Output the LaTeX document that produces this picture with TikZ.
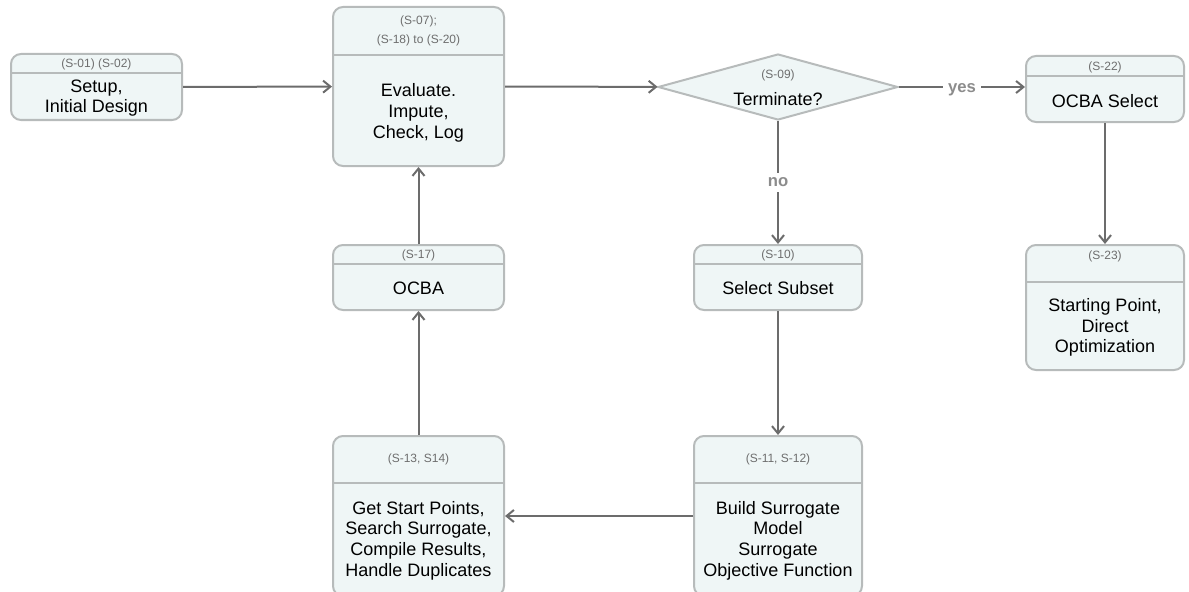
\documentclass[tikz,border=0pt]{standalone}
\usepackage{fontspec}
\setmainfont{Liberation Sans}
\usetikzlibrary{arrows.meta}
\usetikzlibrary{positioning}
\usetikzlibrary{shapes.geometric}
\definecolor{boxfill}{HTML}{EFF6F6}
\definecolor{boxedge}{HTML}{B7BBBB}
\definecolor{flowline}{HTML}{6C6C6C}
\definecolor{hdrtext}{HTML}{6E6E6E}
\definecolor{choicetext}{HTML}{8C8C8C}

\tikzset{
	stepbox/.style={draw=boxedge, fill=boxfill, line width=1.5pt, rounded corners=7.5pt, inner sep=0pt},
	decision/.style={diamond, draw=boxedge, fill=boxfill, line width=1.5pt, inner sep=0pt},
	divider/.style={draw=boxedge, line width=1.5pt},
	hdr/.style={text=hdrtext, font=\fontsize{9}{14}\selectfont, align=center, inner sep=0pt},
	body/.style={text=black, font=\fontsize{13.5}{15.5}\selectfont, align=center, inner sep=0pt},
	flow/.style={draw=flowline, line width=1.5pt, -{Straight Barb[length=5.5pt,width=9pt,line width=1.5pt]}},
	choice/.style={text=choicetext, font=\fontsize{12.5}{14}\selectfont\bfseries, fill=white, inner sep=3.5pt}
}

\begin{document}
\begin{tikzpicture}[x=0.75pt,y=-0.75pt]
		\clip (0,0) rectangle (1189,592);
		
		% boxes
		\node[stepbox, minimum width=128.25pt, minimum height=49.5pt] (setup) at (96.5,87) {};
		\node[stepbox, minimum width=128.25pt, minimum height=119.25pt] (eval) at (418.5,86.5) {};
		\node[decision, minimum width=180pt, minimum height=49.5pt] (term) at (778,87) {};
		\node[stepbox, minimum width=118.5pt, minimum height=49.5pt] (ocbasel) at (1105,89) {};
		\node[stepbox, minimum width=118.5pt, minimum height=93.75pt] (start) at (1105,307.5) {};
		\node[stepbox, minimum width=128.25pt, minimum height=48.75pt] (ocba) at (418.5,277.5) {};
		\node[stepbox, minimum width=126pt, minimum height=48.75pt] (subset) at (778,277.5) {};
		\node[stepbox, minimum width=128.25pt, minimum height=120pt] (search) at (418.5,516) {};
		\node[stepbox, minimum width=126pt, minimum height=120pt] (surr) at (778,516) {};
		
		% header lines
		\draw[divider] (setup.west |- 0,73) -- (setup.east |- 0,73);
		\draw[divider] (eval.west |- 0,55) -- (eval.east |- 0,55);
		\draw[divider] (ocbasel.west |- 0,76) -- (ocbasel.east |- 0,76);
		\draw[divider] (start.west |- 0,282) -- (start.east |- 0,282);
		\draw[divider] (ocba.west |- 0,264) -- (ocba.east |- 0,264);
		\draw[divider] (subset.west |- 0,264) -- (subset.east |- 0,264);
		\draw[divider] (search.west |- 0,483) -- (search.east |- 0,483);
		\draw[divider] (surr.west |- 0,483) -- (surr.east |- 0,483);
		
		% step numbers
		\node[hdr] (setuphd) at (96.5,64.5) {(S-01) (S-02)};
		\node[hdr] (evalhd) at (418.5,31) {(S-07);\\(S-18) to (S-20)};
		\node[hdr] (termhd) at (778,75) {(S-09)};
		\node[hdr] (ocbaselhd) at (1105,67) {(S-22)};
		\node[hdr] (starthd) at (1105,256) {(S-23)};
		\node[hdr] (ocbahd) at (418.5,255) {(S-17)};
		\node[hdr] (subsethd) at (778,255) {(S-10)};
		\node[hdr] (searchhd) at (418.5,459) {(S-13, S14)};
		\node[hdr] (surrhd) at (778,459) {(S-11, S-12)};
		
		% texts
		\node[body] (setupbd) at (96.5,98) {Setup,\\Initial Design};
		\node[body] (evalbd) at (418.5,113) {Evaluate.\\Impute,\\Check, Log};
		\node[body] (termbd) at (778,99) {Terminate?};
		\node[body] (ocbaselbd) at (1105,101) {OCBA Select};
		\node[body] (startbd) at (1105,327.5) {Starting Point,\\Direct\\Optimization};
		\node[body] (ocbabd) at (418.5,288) {OCBA};
		\node[body] (subsetbd) at (778,288) {Select Subset};
		\node[body] (searchbd) at (418.5,540.5) {Get Start Points,\\Search Surrogate,\\Compile Results,\\Handle Duplicates};
		\node[body] (surrbd) at (778,540.5) {Build Surrogate\\Model\\Surrogate\\Objective Function};
		
		% flow
		\draw[flow] (setup) -- (eval);
		\draw[flow] (eval) -- (term);
		\draw[flow] (term.east) -- node[choice, yshift=-2pt] {yes} (ocbasel.west |- term.east);
		\draw[flow] (term.south) -- node[choice] {no} (subset.north);
		\draw[flow] (ocbasel) -- (start);
		\draw[flow] (subset) -- (surr);
		\draw[flow] (surr) -- (search);
		\draw[flow] (search) -- (ocba);
		\draw[flow] (ocba) -- (eval);
	\end{tikzpicture}
\end{document}
